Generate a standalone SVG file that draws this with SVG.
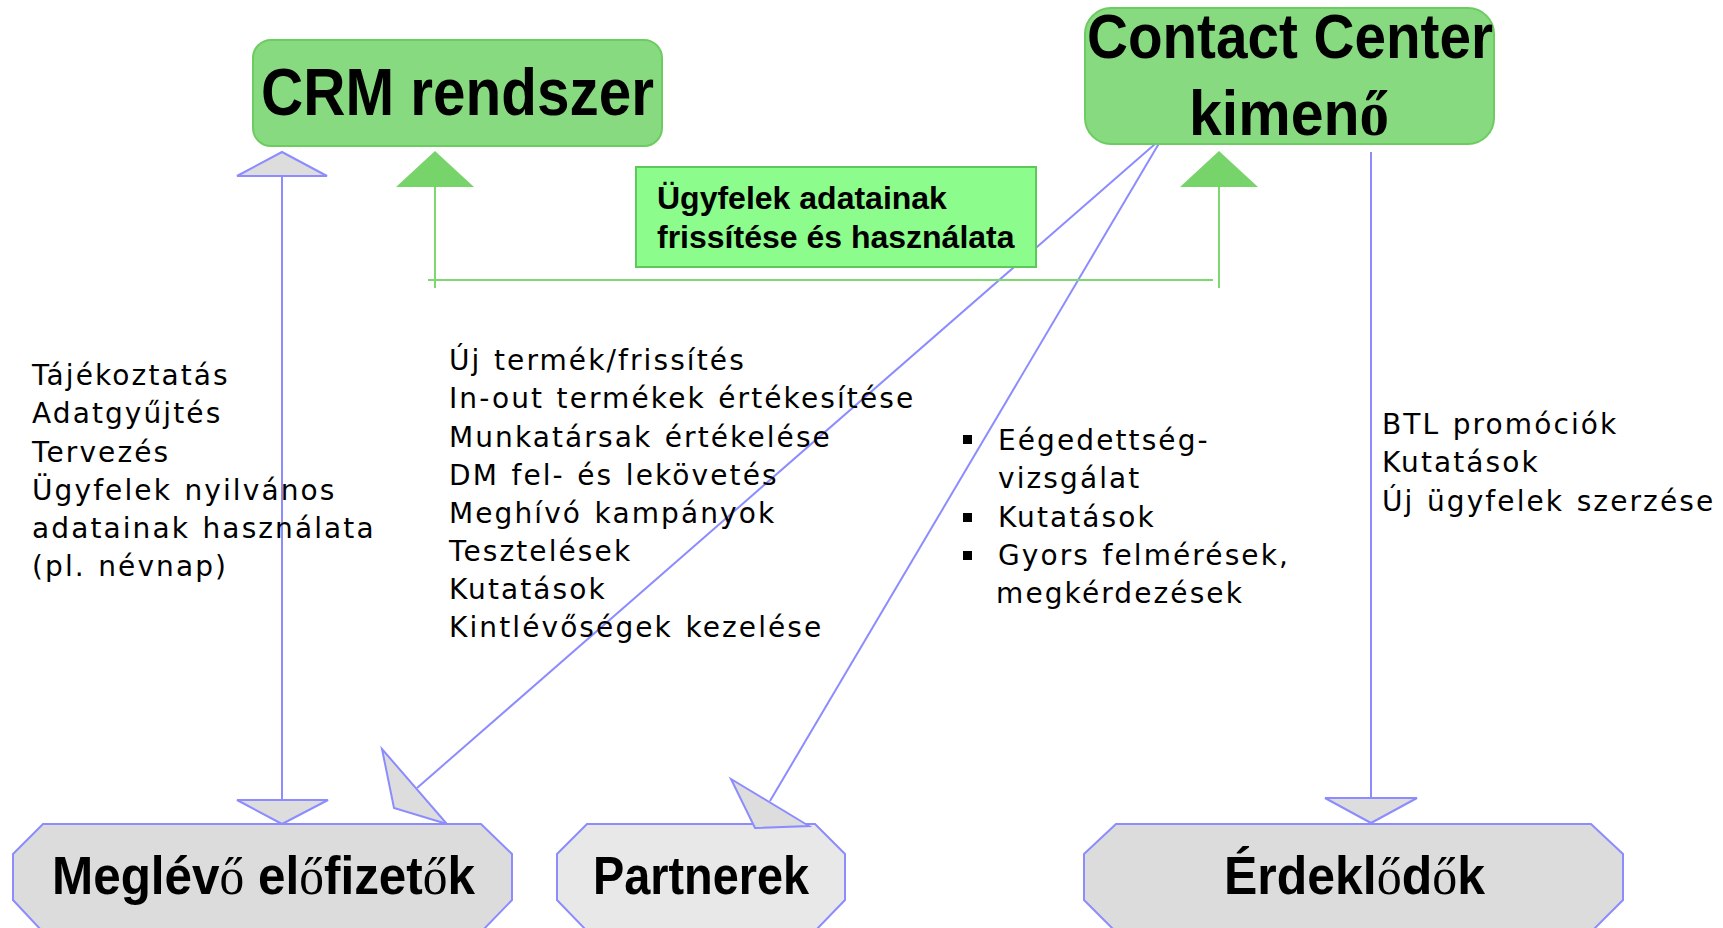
<svg xmlns="http://www.w3.org/2000/svg" width="1723" height="928" viewBox="0 0 1723 928">
<style>
.gbox{fill:#88da80;stroke:#6ccc60;stroke-width:2}
.lbl{fill:#8cfc8c;stroke:#5ec85a;stroke-width:2}
.oct{stroke:#8c8cff;stroke-width:2}
.big{font-family:"Liberation Sans",Arial,sans-serif;font-weight:bold;fill:#000}
.ser{font-family:"Liberation Serif","Times New Roman",serif;font-weight:normal}
.serb{font-family:"Liberation Serif","Times New Roman",serif;font-weight:bold}
.txt{font-family:"DejaVu Sans",Verdana,sans-serif;font-size:28px;letter-spacing:2.1px;word-spacing:1.5px;fill:#000}
.bl{stroke:#8c8cff;stroke-width:2;fill:none}
.bh{fill:#dddddd;stroke:#8c8cff;stroke-width:2;stroke-linejoin:miter}
.gl{stroke:#7dd870;stroke-width:2;fill:none}
.gh{fill:#77d46a;stroke:none}
</style>
<rect width="1723" height="928" fill="#ffffff"/>

<g id="connectors">
  <line class="bl" x1="282" y1="176" x2="282" y2="800"/>
  <polygon class="bh" points="282,152 237,176 327,176"/>
  <polygon class="bh" points="237,800 328,800 282,824"/>
  <line class="bl" x1="1155" y1="144" x2="417" y2="788"/>
  <polygon class="bh" points="382,749 394,808 447,824"/>
  <line class="bl" x1="1161" y1="140" x2="770" y2="801"/>
  <line class="bl" x1="1371" y1="152" x2="1371" y2="798"/>
  <polygon class="bh" points="1325,798 1417,798 1371,823"/>
  <line class="gl" x1="428" y1="280" x2="1213" y2="280"/>
  <line class="gl" x1="435" y1="187" x2="435" y2="288"/>
  <line class="gl" x1="1219" y1="187" x2="1219" y2="288"/>
  <polygon class="gh" points="435,151 396,187 474,187"/>
  <polygon class="gh" points="1219,151 1180,187 1258,187"/>
</g>

<g id="crm">
  <rect class="gbox" x="253" y="40" width="409" height="106" rx="18"/>
  <text class="big" x="261" y="115" font-size="67" textLength="393" lengthAdjust="spacingAndGlyphs">CRM rendszer</text>
</g>

<g id="contact">
  <rect class="gbox" x="1085" y="8" width="409" height="136" rx="26"/>
  <text class="big" x="1087" y="58" font-size="63" textLength="406" lengthAdjust="spacingAndGlyphs">Contact Center</text>
  <text class="big" x="1189" y="135" font-size="63" textLength="200" lengthAdjust="spacingAndGlyphs">kimen<tspan class="serb">ő</tspan></text>
</g>

<g id="label">
  <rect class="lbl" x="636" y="167" width="400" height="100"/>
  <text class="big" font-size="32" x="657" y="209">Ügyfelek adatainak</text>
  <text class="big" font-size="32" x="657" y="248">frissítése és használata</text>
</g>

<g id="meglevo">
  <polygon class="oct" fill="#dcdcdc" points="13,854 43,824 481,824 512,854 512,900 482,931 42,931 13,900"/>
  <text class="big" x="52" y="894" font-size="53" textLength="423" lengthAdjust="spacingAndGlyphs">Meglév<tspan class="ser">ő</tspan> el<tspan class="ser">ő</tspan>fizet<tspan class="ser">ő</tspan>k</text>
</g>

<g id="partnerek">
  <polygon class="oct" fill="#e8e8e8" points="557,854 587,824 815,824 845,854 845,900 816,930 586,930 557,900"/>
  <text class="big" x="593" y="894" font-size="53" textLength="216" lengthAdjust="spacingAndGlyphs">Partnerek</text>
  <polygon class="bh" points="731,779 755,828 809,826"/>
</g>

<g id="erdeklodok">
  <polygon class="oct" fill="#dcdcdc" points="1084,854 1116,824 1591,824 1623,854 1623,900 1592,931 1115,931 1084,900"/>
  <text class="big" x="1224" y="894" font-size="53" textLength="261" lengthAdjust="spacingAndGlyphs">Érdekl<tspan class="ser">ő</tspan>d<tspan class="ser">ő</tspan>k</text>
</g>

<g id="text-left">
  <text class="txt" x="32" y="385">Tájékoztatás</text>
  <text class="txt" x="32" y="423">Adatgyűjtés</text>
  <text class="txt" x="32" y="462">Tervezés</text>
  <text class="txt" x="32" y="500">Ügyfelek nyilvános</text>
  <text class="txt" x="32" y="538">adatainak használata</text>
  <text class="txt" x="32" y="576">(pl. névnap)</text>
</g>

<g id="text-middle">
  <text class="txt" x="449" y="370">Új termék/frissítés</text>
  <text class="txt" x="449" y="408">In-out termékek értékesítése</text>
  <text class="txt" x="449" y="447">Munkatársak értékelése</text>
  <text class="txt" x="449" y="485">DM fel- és lekövetés</text>
  <text class="txt" x="449" y="523">Meghívó kampányok</text>
  <text class="txt" x="449" y="561">Tesztelések</text>
  <text class="txt" x="449" y="599">Kutatások</text>
  <text class="txt" x="449" y="637">Kintlévőségek kezelése</text>
</g>

<g id="text-bullets">
  <rect x="963" y="435" width="9" height="9" fill="#000"/>
  <rect x="963" y="513" width="9" height="9" fill="#000"/>
  <rect x="963" y="551" width="9" height="9" fill="#000"/>
  <text class="txt" x="998" y="450">Eégedettség-</text>
  <text class="txt" x="998" y="488">vizsgálat</text>
  <text class="txt" x="998" y="527">Kutatások</text>
  <text class="txt" x="998" y="565">Gyors felmérések,</text>
  <text class="txt" x="996" y="603">megkérdezések</text>
</g>

<g id="text-right">
  <text class="txt" x="1382" y="434">BTL promóciók</text>
  <text class="txt" x="1382" y="472">Kutatások</text>
  <text class="txt" x="1382" y="511">Új ügyfelek szerzése</text>
</g>
</svg>
